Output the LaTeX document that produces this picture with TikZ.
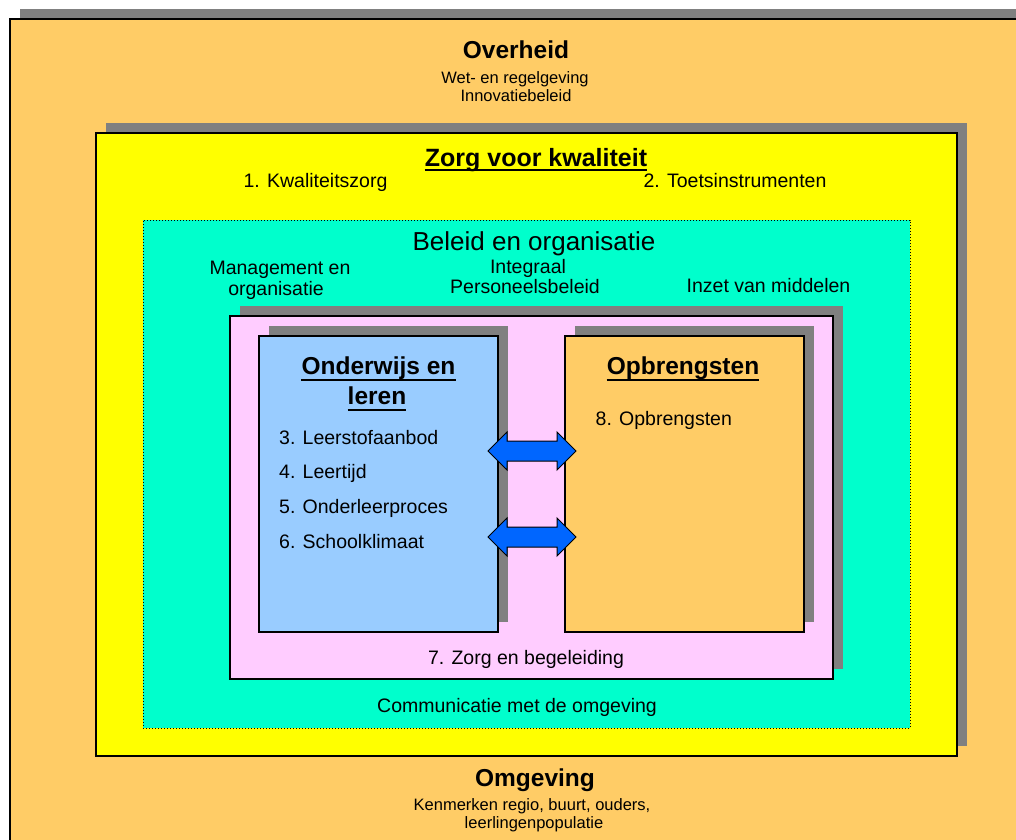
\documentclass[tikz,border=0pt]{standalone}
\usepackage{fontspec}
\setmainfont{Liberation Sans}
\usetikzlibrary{shadows,shapes.arrows}
\definecolor{outerorange}{HTML}{FFCC66}
\definecolor{kyellow}{HTML}{FFFF00}
\definecolor{kteal}{HTML}{00FFCC}
\definecolor{kpink}{HTML}{FFCCFF}
\definecolor{kblue}{HTML}{99CCFF}
\definecolor{karrow}{HTML}{0066FF}
\definecolor{kshadow}{HTML}{808080}
\newcommand\fsS{\fontsize{16.5}{20}\selectfont}
\newcommand\fsM{\fontsize{19.5}{23}\selectfont}
\newcommand\fsL{\fontsize{24.5}{29}\selectfont\bfseries}
\newcommand\fsB{\fontsize{26}{30}\selectfont}
\begin{document}
\begin{tikzpicture}[x=1pt,y=-1pt,
  box/.style={rectangle,draw=black,line width=1.4pt,inner sep=0pt},
  shad/.style={drop shadow={shadow xshift=10pt,shadow yshift=10pt,fill=kshadow,opacity=1}},
  txt/.style={inner sep=0pt,anchor=base,text=black},
  txtl/.style={inner sep=0pt,anchor=base west,text=black},
  uline/.style={line width=2pt},
  biarrow/.style={double arrow,draw=black,line width=1pt,fill=karrow,
    double arrow head extend=9pt,double arrow tip angle=90,
    inner xsep=0pt,inner ysep=9.5pt,minimum height=88pt}
]
\useasboundingbox (0,0) rectangle (1016,839);
\clip (0,0) rectangle (1016,839);

% boxes
\node[box,shad,fill=outerorange,minimum width=1020pt,minimum height=831pt] (outer) at (520,434.5) {};
\node[box,shad,fill=kyellow,minimum width=861pt,minimum height=623pt] (kwal) at (526.5,444.5) {};
\node[rectangle,draw=black,line width=1pt,dotted,fill=kteal,inner sep=0pt,minimum width=767pt,minimum height=508pt] (beleid) at (526.5,474) {};
\node[box,shad,fill=kpink,minimum width=603pt,minimum height=363pt] (zorg) at (531.5,497.5) {};
\node[box,shad,fill=kblue,minimum width=239pt,minimum height=296pt] (ol) at (378.5,484) {};
\node[box,shad,fill=outerorange,minimum width=239pt,minimum height=296pt] (opb) at (684.5,484) {};

% arrows between the two inner boxes
\node[biarrow] (arr1) at (532,451) {};
\node[biarrow] (arr2) at (532,537) {};

% outer texts
\node[txt] (toverheid) at (516,58) {\fsL Overheid};
\node[txt] (twet) at (515,83) {\fsS Wet- en regelgeving};
\node[txt] (tinnov) at (516,101) {\fsS Innovatiebeleid};

\node[txt] (tomgeving) at (535,786) {\fsL Omgeving};
\node[txt] (tkenm) at (532,810) {\fsS Kenmerken regio, buurt, ouders,};
\node[txt] (tleerl) at (534,828) {\fsS leerlingenpopulatie};

% zorg voor kwaliteit
\node[txt] (tzorgk) at (536,166) {\fontsize{25}{29}\selectfont\bfseries Zorg voor kwaliteit};
\draw[uline] ([yshift=-4pt]tzorgk.base west) -- ([yshift=-4pt]tzorgk.base east);
\node[txt] (tk1) at (315.5,187) {\fsM 1. Kwaliteitszorg};
\node[txt] (tk2) at (735,187) {\fsM 2. Toetsinstrumenten};

% beleid en organisatie
\node[txt] (tbeleid) at (534,250) {\fsB Beleid en organisatie};
\node[txt] (tman1) at (280,274) {\fsM Management en};
\node[txt] (tman2) at (276,295) {\fsM organisatie};
\node[txt] (tint1) at (528,273) {\fsM Integraal};
\node[txt] (tint2) at (525,293) {\fsM Personeelsbeleid};
\node[txt] (tinzet) at (768.5,292) {\fsM Inzet van middelen};
\node[txt] (tcomm) at (517,712) {\fsM Communicatie met de omgeving};

% zorg en begeleiding
\node[txt] (tzb) at (526,664) {\fsM 7. Zorg en begeleiding};

% onderwijs en leren
\node[txt] (tol1) at (378.5,374) {\fsL Onderwijs en};
\draw[uline] ([yshift=-5.5pt]tol1.base west) -- ([yshift=-5.5pt]tol1.base east);
\node[txt] (tol2) at (377,404) {\fsL leren};
\draw[uline] ([yshift=-5.5pt]tol2.base west) -- ([yshift=-5.5pt]tol2.base east);
\node[txtl] (ti3) at (279,444) {\fsM 3. Leerstofaanbod};
\node[txtl] (ti4) at (279,478.5) {\fsM 4. Leertijd};
\node[txtl] (ti5) at (279,513) {\fsM 5. Onderleerproces};
\node[txtl] (ti6) at (279,548) {\fsM 6. Schoolklimaat};

% opbrengsten
\node[txt] (topb) at (683,374) {\fsL Opbrengsten};
\draw[uline] ([yshift=-5.5pt]topb.base west) -- ([yshift=-5.5pt]topb.base east);
\node[txtl] (ti8) at (595.5,425) {\fsM 8. Opbrengsten};
\end{tikzpicture}
\end{document}
